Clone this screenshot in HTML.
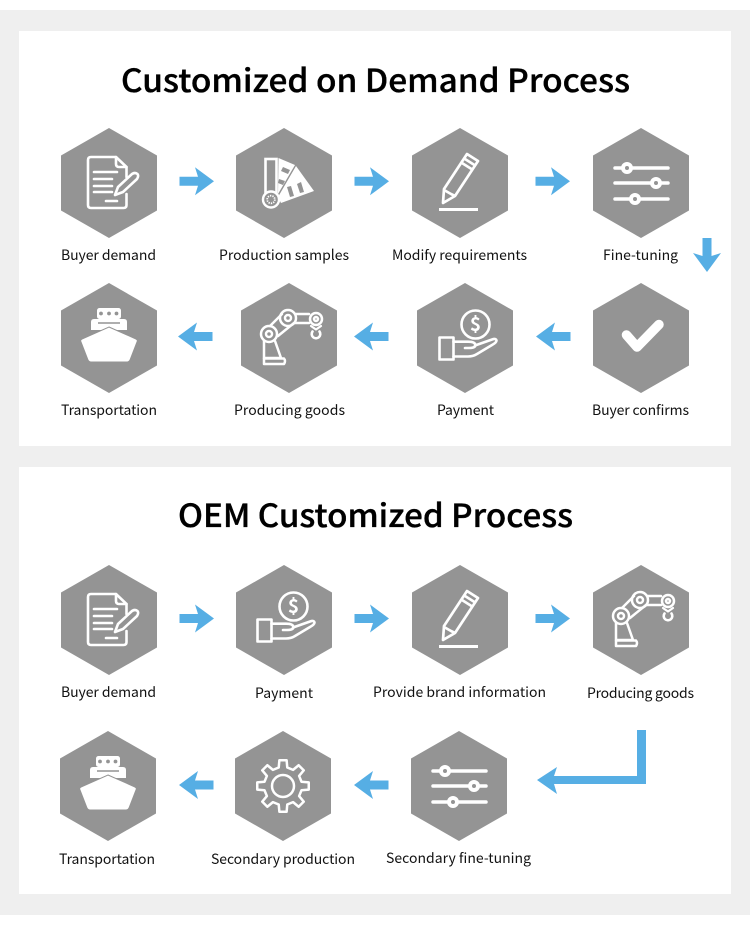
<!DOCTYPE html>
<html><head><meta charset="utf-8"><style>
html,body{margin:0;padding:0;background:#fff}
svg{display:block}
text{font-family:"Noto Sans CJK SC","Liberation Sans",sans-serif;fill:#111}
.t{font-size:32px;font-weight:500;fill:#000;stroke:#000;stroke-width:.35px}
.l{font-size:14px}
.d{font-size:19px;font-weight:700;fill:#fff}
</style></head><body>
<svg width="750" height="934" viewBox="0 0 750 934" xmlns="http://www.w3.org/2000/svg">
<defs>
<polygon id="hex" points="0,-55 48,-27.5 48,27.5 0,55 -48,27.5 -48,-27.5" fill="#949494"/>
<polygon id="ar" points="-17.500,-4.500 1,-4.500 -2,-14 17,0 -2,14 1,4.500 -17.500,4.500" fill="#56aee4"/>
<polygon id="al" points="17.500,-4.500 -1,-4.500 2,-14 -17,0 2,14 -1,4.500 17.500,4.500" fill="#56aee4"/>
<g id="doc" fill="none" stroke="#fff" stroke-width="2.600" stroke-linecap="round" stroke-linejoin="round">
<path d="M17.500,-6V-16L7,-26H-18Q-21,-26 -21,-23V22Q-21,25 -18,25H14.500Q17.500,25 17.500,22V11"/>
<path d="M7,-26V-19Q7,-16 10,-16H17.500"/>
<path d="M-15,-11H8M-15,-4H3M-15,3H3M-15,9H3M-3,18H8"/>
<path d="M6,12L9,4L23,-9Q26,-11 28.500,-9Q30,-7 28,-4L14,9Z"/>
</g>
<g id="fan">
<rect x="-18.500" y="-24" width="11" height="36" fill="none" stroke="#fff" stroke-width="2.600"/>
<polygon points="-5.500,-25 11,-18 -6,11" fill="#fff"/>
<polygon points="12,-17 30,8 -3,20 -6,14" fill="#fff"/>
<polygon points="-1,-16 6,-13 4,-9 -3,-12" fill="#949494"/>
<polygon points="-5,-4 1,-2 -1,2 -6,0" fill="#949494"/>
<polygon points="3,4 7,3 10,13 6,14" fill="#949494"/>
<polygon points="13,1 17,-1 20,9 16,10" fill="#949494"/>
<circle cx="-13" cy="16.500" r="8" fill="#949494" stroke="#fff" stroke-width="2.400"/>
<circle cx="-13" cy="16.500" r="3.800" fill="none" stroke="#fff" stroke-width="1.800" stroke-dasharray="1.300 1.100"/>
</g>
<g id="pen" fill="none" stroke="#fff" stroke-width="2.700" stroke-linejoin="round">
<path d="M-17,20L-16,6L7,-29L18,-22L-5,13Z"/>
<path d="M-16,7L-9,11L-5,13M2,-20L13,-13M5,-24L16,-17"/>
<path d="M-21,26.500H18" stroke-width="3"/>
</g>
<g id="sl" stroke="#fff" stroke-width="3.500" stroke-linecap="round">
<path d="M-26,-15H27M-26,0H27M-26,16H27"/>
<circle cx="-14" cy="-15" r="4" fill="#949494" stroke-width="4"/>
<circle cx="15" cy="0" r="4" fill="#949494" stroke-width="4"/>
<circle cx="-6" cy="16" r="4" fill="#949494" stroke-width="4"/>
</g>
<g id="ship">
<rect x="-12" y="-30" width="24" height="11" rx="2.500" fill="#fff"/>
<circle cx="-8" cy="-24.500" r="1.900" fill="#949494"/><circle cx="0" cy="-24.500" r="1.900" fill="#949494"/><circle cx="7.500" cy="-24.500" r="1.900" fill="#949494"/>
<path d="M-18,-8V-16Q-18,-19 -15,-19H15Q18,-19 18,-16V-8Z" fill="#fff"/>
<path d="M-11,-15H11" stroke="#949494" stroke-width="1.400"/>
<path d="M0,-11L27,1Q29,2 28,4L21,22Q20,24 18,24H-18Q-20,24 -21,22L-28,4Q-29,2 -27,1Z" fill="#fff" stroke="#949494" stroke-width="1"/>
</g>
<g id="robot" fill="none" stroke="#fff" stroke-width="2.500" stroke-linejoin="round" stroke-linecap="round">
<path d="M-25,3V20H-8L-14,3"/>
<path d="M-25,20.500H-5Q-3,23 -5,26H-25Z"/>
<path d="M-19,-12L-7,-24M-11,-2L5,-15"/>
<path d="M6,-24H20M6,-15H20"/>
<circle cx="-20" cy="-4" r="8"/><circle cx="-20" cy="-4" r="3"/>
<circle cx="-1" cy="-20" r="8"/><circle cx="-1" cy="-20" r="3"/>
<circle cx="27" cy="-19" r="6"/><circle cx="27" cy="-19" r="2"/>
<path d="M22,-12L27,-8.500L32,-12" stroke-width="2.200"/>
<path d="M23.500,-6.500A4.300,4.300 0 1 0 30.500,-6.500" stroke-width="2.600"/>
</g>
<g id="pay" fill="none" stroke="#fff" stroke-width="2.600" stroke-linejoin="round" stroke-linecap="round">
<circle cx="10.500" cy="-13.500" r="14"/>
<rect x="-25.500" y="-0.500" width="14" height="22"/>
<path d="M-11.500,3.700H3Q10,3.700 10.500,7Q10.500,10 3.500,10H0"/>
<path d="M10,7.500L27,1.500Q31,0 31.500,2.500Q31.500,4.500 27,7L12,16Q8,18.500 3,18.500H-11.500"/>
</g>
<g id="gear" fill="none" stroke="#fff" stroke-width="2.500" stroke-linejoin="round">
<polygon points="-4.270,-18.510 -3.620,-25.750 3.620,-25.750 4.270,-18.510 10.070,-16.110 15.650,-20.760 20.760,-15.650 16.110,-10.070 18.510,-4.270 25.750,-3.620 25.750,3.620 18.510,4.270 16.110,10.070 20.760,15.650 15.650,20.760 10.070,16.110 4.270,18.510 3.620,25.750 -3.620,25.750 -4.270,18.510 -10.070,16.110 -15.650,20.760 -20.760,15.650 -16.110,10.070 -18.510,4.270 -25.750,3.620 -25.750,-3.620 -18.510,-4.270 -16.110,-10.070 -20.760,-15.650 -15.650,-20.760 -10.070,-16.110"/>
<circle cx="0" cy="0" r="11"/>
</g>
</defs>

<rect x="0" y="10" width="750" height="905" fill="#efefef"/>
<rect x="19" y="31" width="712" height="415" fill="#fff"/>
<rect x="19" y="467" width="712" height="427" fill="#fff"/>

<text class="t" x="121" y="92" textLength="509" lengthAdjust="spacingAndGlyphs">Customized on Demand Process</text>
<text class="t" x="178" y="527" textLength="395" lengthAdjust="spacingAndGlyphs">OEM Customized Process</text>

<!-- Row 1 -->
<use href="#hex" x="109" y="183"/><use href="#doc" x="109" y="183"/>
<use href="#hex" x="284" y="183"/><use href="#fan" x="284" y="183"/>
<use href="#hex" x="460" y="183"/><use href="#pen" x="460" y="183"/>
<use href="#hex" x="641" y="183"/><use href="#sl" x="641" y="183"/>
<use href="#ar" x="197" y="181.300"/><use href="#ar" x="372" y="181.300"/><use href="#ar" x="553" y="181.300"/>
<polygon points="702.500,238 711.500,238 711.500,256 721,253 707,272 693,253 702.500,256" fill="#56aee4"/>
<text class="l" x="61" y="260" textLength="95">Buyer demand</text>
<text class="l" x="219" y="260" textLength="130">Production samples</text>
<text class="l" x="392" y="260" textLength="135">Modify requirements</text>
<text class="l" x="603" y="260" textLength="75">Fine-tuning</text>

<!-- Row 2 -->
<use href="#hex" x="109" y="338"/><use href="#ship" x="109" y="338"/>
<use href="#hex" x="289" y="338"/><use href="#robot" x="289" y="338"/>
<use href="#hex" x="465" y="338"/><use href="#pay" x="465" y="338"/>
<text class="d" x="475.500" y="331" text-anchor="middle">$</text>
<use href="#hex" x="641" y="338"/>
<path d="M-14.500,-3L-4,9L18,-13.500" transform="translate(641,338)" fill="none" stroke="#fff" stroke-width="9.500" stroke-linecap="round" stroke-linejoin="round"/>
<use href="#al" x="195" y="336.500"/><use href="#al" x="371" y="336.500"/><use href="#al" x="553" y="336.500"/>
<text class="l" x="61" y="415" textLength="96">Transportation</text>
<text class="l" x="234" y="415" textLength="111">Producing goods</text>
<text class="l" x="437" y="415" textLength="57">Payment</text>
<text class="l" x="592" y="415" textLength="97">Buyer confirms</text>

<!-- Row 3 -->
<use href="#hex" x="109" y="620"/><use href="#doc" x="109" y="620"/>
<use href="#hex" x="284" y="620"/><use href="#pay" x="283" y="620"/>
<text class="d" x="293.500" y="613" text-anchor="middle">$</text>
<use href="#hex" x="460" y="620"/><use href="#pen" x="460" y="620"/>
<use href="#hex" x="641" y="620"/><use href="#robot" x="641" y="620"/>
<use href="#ar" x="197" y="618.500"/><use href="#ar" x="372" y="618.500"/><use href="#ar" x="553" y="618.500"/>
<text class="l" x="61" y="697" textLength="95">Buyer demand</text>
<text class="l" x="255" y="698" textLength="58">Payment</text>
<text class="l" x="373" y="697" textLength="173">Provide brand information</text>
<text class="l" x="587" y="698" textLength="107">Producing goods</text>

<!-- Row 4 -->
<use href="#hex" x="108" y="786"/><use href="#ship" x="108" y="786"/>
<use href="#hex" x="283" y="786"/><use href="#gear" x="283" y="786"/>
<use href="#hex" x="459" y="786"/><use href="#sl" x="459" y="786"/>
<use href="#al" x="196" y="785"/><use href="#al" x="371" y="785"/>
<polygon points="637,730 646,730 646,784 554,784 557,794 537,780 557,767 554,776 637,776" fill="#56aee4"/>
<text class="l" x="59" y="864" textLength="96">Transportation</text>
<text class="l" x="211" y="864" textLength="144">Secondary production</text>
<text class="l" x="386" y="863" textLength="145">Secondary fine-tuning</text>
</svg>
</body></html>
